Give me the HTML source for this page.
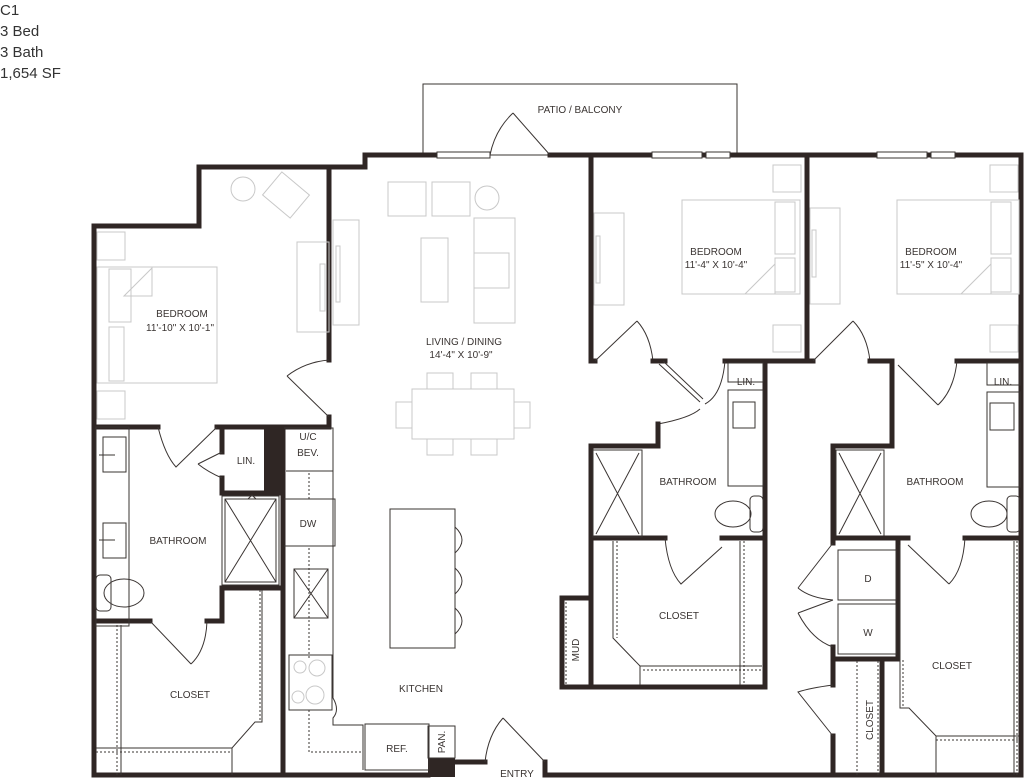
<!DOCTYPE html>
<html><head><meta charset="utf-8"><style>
html,body{margin:0;padding:0;background:#fff;}
svg{display:block;}
text{font-family:"Liberation Sans",sans-serif;fill:#3a3432;}
.h{font-size:15px;fill:#333;}
.l{font-size:10px;text-anchor:middle;}
.w{fill:none;stroke:#2f2624;stroke-width:5;stroke-linecap:square;stroke-linejoin:miter;}
.t{fill:none;stroke:#3a3432;stroke-width:1;}
.f{fill:none;stroke:#c8c8c8;stroke-width:1;}
.d{fill:none;stroke:#3a3432;stroke-width:1;stroke-dasharray:2 2;}
.k{fill:#2f2624;}
</style></head><body>
<svg width="1024" height="781" viewBox="0 0 1024 781" xmlns="http://www.w3.org/2000/svg">
<text class="h" x="0" y="15">C1</text>
<text class="h" x="0" y="36">3 Bed</text>
<text class="h" x="0" y="57">3 Bath</text>
<text class="h" x="0" y="78">1,654 SF</text>

<!-- patio -->
<rect class="t" x="423" y="84" width="314" height="71"/>
<text class="l" x="580" y="113">PATIO / BALCONY</text>

<!-- outer walls -->
<polyline class="w" points="437,155 365,155 365,167 199,167 199,226 94,226 94,775 428,775"/>
<polyline class="w" points="550,155 1021,155 1021,775 545,775 545,762"/>
<polyline class="w" points="455,762 485,762"/>
<rect class="k" x="428" y="758" width="27" height="19"/>
<!-- windows -->
<g fill="#fff" stroke="#3a3432" stroke-width="1">
<rect x="437" y="152" width="53" height="6"/>
<rect x="652" y="152" width="50" height="6"/><rect x="706" y="152" width="24" height="6"/>
<rect x="877" y="152" width="50" height="6"/><rect x="931" y="152" width="24" height="6"/>
</g>
<!-- patio door -->
<path class="t" d="M550,155 L513,113 M513,113 Q495,130 490,155"/>
<!-- entry door -->
<path class="t" d="M545,762 L503,718 M503,718 Q488,735 485,762"/>

<!-- left bedroom walls -->
<polyline class="w" points="329,167 329,360"/>
<polyline class="w" points="329,417 329,427 217,427"/>
<polyline class="w" points="94,427 158,427"/>
<path class="t" d="M329,417 L287,376 M287,376 Q305,362 329,360"/>
<path class="t" d="M158,427 Q165,455 176,467 L217,427"/>
<!-- LIN -->
<polyline class="w" points="222,427 222,452"/>
<polyline class="w" points="222,478 222,493 283,493"/>
<rect class="k" x="264" y="427" width="19" height="66"/>
<path class="t" d="M222,452 L198,464 M198,464 Q208,472 222,478"/>
<text class="l" x="246" y="464">LIN.</text>
<!-- kitchen side wall -->
<polyline class="w" points="283,427 283,775"/>
<!-- shower -->
<rect class="t" x="222" y="496" width="57" height="89"/>
<path class="t" d="M225,499 L276,582 M276,499 L225,582 M225,499 h51 v83 h-51z"/>
<path class="t" d="M248,499 l4,-4 l4,4"/>
<!-- bath/closet wall -->
<polyline class="w" points="94,621 150,621"/>
<polyline class="w" points="207,621 222,621 222,588 283,588"/>
<path class="t" d="M150,621 L191,664 M191,664 Q206,650 207,621"/>
<!-- vanities -->
<rect class="t" x="96" y="427" width="33" height="199"/>
<rect class="t" x="103" y="437" width="23" height="35"/>
<rect class="t" x="103" y="523" width="23" height="35"/>
<path class="t" d="M99,455 h16 M99,540 h16"/>
<rect class="t" x="96" y="575" width="15" height="36" rx="4"/>
<ellipse class="t" cx="124" cy="593" rx="20" ry="14"/>
<text class="l" x="178" y="544">BATHROOM</text>
<!-- closet left -->
<path class="d" d="M117,625 V775 M96,752 H232 M260,590 V722"/>
<path class="t" d="M121,625 V775 M96,748 H232 L255,722 H262 V590 M232,748 V775"/>
<text class="l" x="190" y="698">CLOSET</text>
<!-- bedroom 1 furniture -->
<g class="f">
<rect x="97" y="232" width="28" height="28"/><rect x="97" y="391" width="28" height="28"/>
<rect x="97" y="267" width="120" height="116"/><rect x="109" y="269" width="22" height="53"/><rect x="109" y="327" width="15" height="54"/>
<path d="M124,296 L152,268 V296 Z"/>
<circle cx="243" cy="189" r="12"/><rect x="268" y="180" width="36" height="30" transform="rotate(40 286 195)"/>
<rect x="297" y="242" width="32" height="90"/><rect x="320" y="264" width="5" height="47"/>
<rect x="333" y="220" width="26" height="105"/><rect x="336" y="246" width="4" height="56"/>
<rect x="388" y="182" width="38" height="34"/><rect x="432" y="182" width="38" height="34"/><circle cx="487" cy="198" r="12"/>
<rect x="421" y="238" width="27" height="64"/>
<rect x="474" y="218" width="41" height="105"/><rect x="474" y="253" width="35" height="35"/>
<rect x="412" y="389" width="102" height="50"/>
<rect x="427" y="373" width="26" height="16"/><rect x="471" y="373" width="26" height="16"/>
<rect x="427" y="439" width="26" height="16"/><rect x="471" y="439" width="26" height="16"/>
<rect x="396" y="402" width="16" height="26"/><rect x="514" y="402" width="16" height="26"/>
<rect x="682" y="200" width="118" height="94"/><rect x="775" y="202" width="20" height="52"/><rect x="775" y="258" width="20" height="34"/>
<path d="M745,294 L775,264 V294 Z"/>
<rect x="773" y="165" width="28" height="27"/><rect x="773" y="325" width="28" height="27"/>
<rect x="594" y="213" width="30" height="92"/><rect x="596" y="236" width="4" height="47"/>
<rect x="897" y="200" width="122" height="94"/><rect x="991" y="202" width="20" height="52"/><rect x="991" y="258" width="20" height="34"/>
<path d="M961,294 L991,264 V294 Z"/>
<rect x="990" y="165" width="28" height="27"/><rect x="990" y="325" width="28" height="27"/>
<rect x="810" y="208" width="30" height="96"/><rect x="812" y="230" width="4" height="47"/>
</g>
<text class="l" x="182" y="317">BEDROOM</text>
<text class="l" x="180" y="331">11'-10" X 10'-1"</text>
<text class="l" x="464" y="345">LIVING / DINING</text>
<text class="l" x="461" y="358">14'-4" X 10'-9"</text>

<!-- kitchen -->
<path class="t" d="M284,428 H333 V698 Q340,710 333,718 V725 H363 V770 M286,471 H333 M284,499 H335 V546 H284"/>
<path class="d" d="M286,471 H333 M286,499 H335 M286,546 H335 M309,473 V499 M309,548 V660 M309,710 V752 H362"/>
<rect class="t" x="294" y="569" width="34" height="49"/>
<path class="t" d="M294,569 L328,618 M328,569 L294,618"/>
<rect class="t" x="289" y="655" width="43" height="55"/>
<g class="f" stroke="#999"><circle cx="300" cy="667" r="6"/><circle cx="317" cy="668" r="8"/><circle cx="298" cy="697" r="6"/><circle cx="315" cy="695" r="9"/></g>
<text class="l" x="308" y="440">U/C</text><text class="l" x="308" y="456">BEV.</text>
<text class="l" x="308" y="527">DW</text>
<rect class="t" x="390" y="509" width="65" height="139"/>
<path class="t" d="M455,527 Q469,540 455,553 M455,568 Q469,581 455,594 M455,608 Q469,621 455,634"/>
<text class="l" x="421" y="692">KITCHEN</text>
<rect class="t" x="365" y="724" width="64" height="46"/>
<text class="l" x="397" y="752">REF.</text>
<rect class="t" x="428" y="726" width="27" height="32"/>
<text class="l" transform="translate(445,742) rotate(-90)">PAN.</text>
<text class="l" x="517" y="777">ENTRY</text>

<!-- bedroom 2 / bath 2 -->
<polyline class="w" points="591,155 591,361 595,361"/>
<path class="t" d="M595,361 L637,321 M637,321 Q650,335 653,361"/>
<polyline class="w" points="653,361 665,361"/>
<path class="t" d="M659,364 L700,402 M663,361 L703,399"/>
<path class="t" d="M700,409 Q690,418 658,424"/>
<polyline class="w" points="725,361 807,361 807,155"/>
<polyline class="w" points="765,361 765,687"/>
<polyline class="w" points="658,424 658,446 591,446 591,687"/>
<polyline class="w" points="591,538 665,538"/>
<polyline class="w" points="722,538 765,538"/>
<path class="t" d="M665,538 Q668,570 681,584 L722,547"/>
<path class="t" d="M725,361 Q722,395 705,404"/>
<rect class="t" x="728" y="363" width="35" height="19"/>
<text class="l" x="746" y="385">LIN.</text>
<rect class="t" x="728" y="390" width="35" height="96"/>
<rect class="t" x="733" y="402" width="22" height="26"/>
<rect class="t" x="750" y="496" width="13" height="36" rx="4"/>
<ellipse class="t" cx="733" cy="514" rx="18" ry="13"/>
<rect class="t" x="593" y="450" width="49" height="87"/>
<path class="t" d="M596,453 L639,534 M639,453 L596,534"/>
<text class="l" x="688" y="485">BATHROOM</text>
<text class="l" x="716" y="255">BEDROOM</text>
<text class="l" x="716" y="268">11'-4" X 10'-4"</text>
<!-- closet 2 -->
<polyline class="w" points="591,598 562,598 562,687 765,687"/>
<path class="t" d="M613,541 V638 L640,666 H762 M740,541 V685 M640,666 V685"/>
<path class="d" d="M566,602 V684 M617,541 V638 M643,670 H762 M744,541 V685"/>
<text class="l" transform="translate(579,650) rotate(-90)">MUD</text>
<text class="l" x="679" y="619">CLOSET</text>

<!-- bedroom 3 / bath 3 -->
<polyline class="w" points="807,361 813,361"/>
<path class="t" d="M813,361 L853,321 M853,321 Q867,335 870,361"/>
<polyline class="w" points="870,361 892,361 892,446 833,446 833,543"/>
<polyline class="w" points="957,361 1021,361"/>
<path class="t" d="M898,365 L938,405 M938,405 Q954,390 957,361"/>
<rect class="t" x="987" y="363" width="33" height="22"/>
<text class="l" x="1003" y="385">LIN.</text>
<rect class="t" x="987" y="392" width="33" height="95"/>
<rect class="t" x="990" y="403" width="24" height="27"/>
<rect class="t" x="1007" y="496" width="13" height="36" rx="4"/>
<ellipse class="t" cx="989" cy="514" rx="18" ry="13"/>
<rect class="t" x="836" y="450" width="48" height="87"/>
<path class="t" d="M839,453 L881,534 M881,453 L839,534"/>
<text class="l" x="935" y="485">BATHROOM</text>
<text class="l" x="931" y="255">BEDROOM</text>
<text class="l" x="931" y="268">11'-5" X 10'-4"</text>
<polyline class="w" points="833,538 908,538"/>
<polyline class="w" points="965,538 1021,538"/>
<path class="t" d="M908,545 L949,584 M949,584 Q963,570 965,538"/>
<!-- laundry -->
<polyline class="w" points="898,538 898,659 833,659 833,685"/>
<polyline class="w" points="833,736 833,775"/>
<polyline class="w" points="833,647 833,659"/>
<polyline class="w" points="882,659 882,775"/>
<rect class="t" x="838" y="550" width="58" height="50"/>
<rect class="t" x="838" y="604" width="58" height="50"/>
<text class="l" x="868" y="582">D</text><text class="l" x="868" y="636">W</text>
<path class="t" d="M833,543 L798,588 M798,588 Q810,598 833,600 M833,600 L798,613 M798,613 Q812,640 833,647"/>
<path class="t" d="M833,685 Q810,688 798,692 L833,736"/>
<path class="d" d="M857,661 V775 M878,661 V775"/>
<text class="l" transform="translate(873,720) rotate(-90)">CLOSET</text>
<path class="t" d="M900,545 V708 H909 L936,736 H1019 M1014,541 V775 M936,736 V775"/>
<path class="d" d="M903,660 V708 M936,740 H1019 M1017,541 V775"/>
<text class="l" x="952" y="669">CLOSET</text>
</svg>
</body></html>
